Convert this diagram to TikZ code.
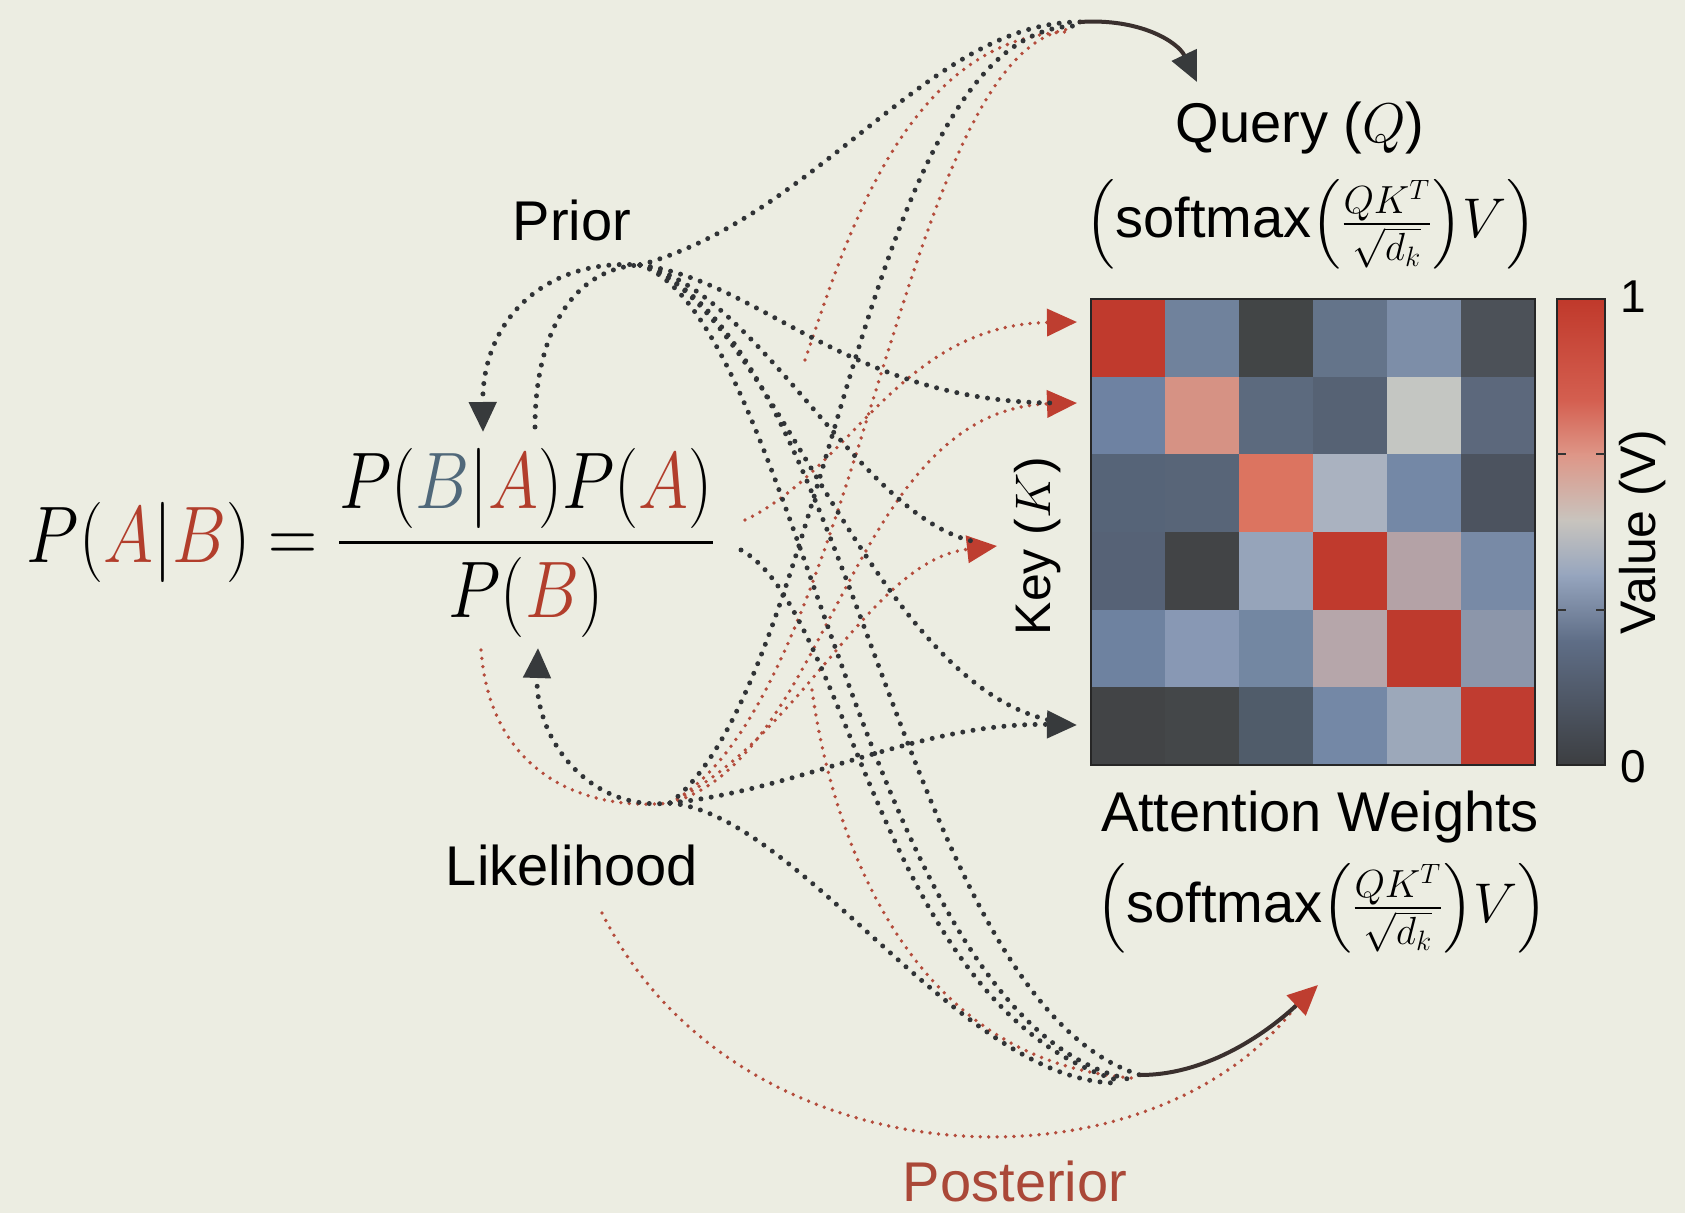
\RequirePackage{fix-cm}
\documentclass[tikz,border=0pt]{standalone}
\usepackage{amsmath}
\usepackage{fontspec}
\setmainfont{Liberation Sans}
\setsansfont{Liberation Sans}
\usetikzlibrary{arrows.meta,calc}
\definecolor{bg}{RGB}{236,237,226}
\definecolor{dotblack}{RGB}{48,51,54}
\definecolor{dotred}{RGB}{180,76,60}
\definecolor{eqred}{RGB}{178,62,44}
\definecolor{eqblue}{RGB}{80,104,122}
\definecolor{postred}{RGB}{170,72,56}
\definecolor{tipred}{RGB}{190,62,48}
\definecolor{tipblack}{RGB}{55,58,60}
\definecolor{solidend}{RGB}{58,48,46}
\begin{document}
\begin{tikzpicture}[x=0.5pt,y=-0.5pt,
  bdot/.style={draw=dotblack, line width=2.5pt, line cap=round, dash pattern=on 0pt off 5.2pt},
  rdot/.style={draw=dotred, line width=1.9pt, line cap=round, dash pattern=on 0pt off 4.2pt},
  btip/.style={-{Triangle[length=15pt,width=13.5pt,color=tipblack]}},
  rtip/.style={-{Triangle[length=15pt,width=13.5pt,color=tipred]}},
  solidseg/.style={draw=solidend, line width=2pt, line cap=round},
  lab/.style={inner sep=0pt, font=\fontsize{28}{32}\selectfont},
  labsm/.style={inner sep=0pt, font=\fontsize{25}{29}\selectfont},
  ticklab/.style={inner sep=0pt, font=\fontsize{23}{27}\selectfont}]
\fill[bg] (0,0) rectangle (1685,1213);
\useasboundingbox (0,0) rectangle (1685,1213);

% ---------- heatmap ----------
\foreach \i/\j/\rr/\gg/\bb in {
 1/1/192/58/45, 1/2/112/130/156, 1/3/66/69/70, 1/4/100/116/138, 1/5/125/142/168, 1/6/76/81/88,
 2/1/110/130/162, 2/2/214/146/132, 2/3/92/106/126, 2/4/86/98/116, 2/5/196/198/194, 2/6/92/104/124,
 3/1/86/100/120, 3/2/88/101/120, 3/3/220/116/96, 3/4/170/178/192, 3/5/116/136/166, 3/6/76/83/95,
 4/1/86/98/118, 4/2/66/68/70, 4/3/150/164/186, 4/4/192/58/45, 4/5/180/162/166, 4/6/120/138/166,
 5/1/110/130/160, 5/2/136/152/180, 5/3/115/135/162, 5/4/182/166/170, 5/5/190/58/45, 5/6/140/150/170,
 6/1/66/68/70, 6/2/68/71/73, 6/3/80/92/106, 6/4/116/136/166, 6/5/156/168/186, 6/6/192/60/48}
{
  \definecolor{cellc}{RGB}{\rr,\gg,\bb}
  \fill[cellc] ({1091+(\j-1)*74},{299+(\i-1)*77.667}) rectangle ++(74.6,78.3);
}
\draw[line width=1.2pt, black!85] (1091,299) rectangle (1535,765);

% ---------- colour bar ----------
\shade[top color={rgb,255:red,192;green,57;blue,43}, bottom color={rgb,255:red,212;green,95;blue,80}] (1557,299) rectangle (1605,401);
\shade[top color={rgb,255:red,212;green,95;blue,80}, bottom color={rgb,255:red,222;green,150;blue,135}] (1557,400) rectangle (1605,455);
\shade[top color={rgb,255:red,222;green,150;blue,135}, bottom color={rgb,255:red,200;green,196;blue,190}] (1557,454) rectangle (1605,521);
\shade[top color={rgb,255:red,200;green,196;blue,190}, bottom color={rgb,255:red,150;green,165;blue,190}] (1557,520) rectangle (1605,576);
\shade[top color={rgb,255:red,150;green,165;blue,190}, bottom color={rgb,255:red,95;green,110;blue,135}] (1557,575) rectangle (1605,641);
\shade[top color={rgb,255:red,95;green,110;blue,135}, bottom color={rgb,255:red,60;green,62;blue,65}] (1557,640) rectangle (1605,765);
\draw[line width=1.2pt, black!85] (1557,299) rectangle (1605,765);
\foreach \ty in {454.3,609.7}{
  \draw[line width=1.1pt, black!80] (1557,\ty) -- ++(9,0);
  \draw[line width=1.1pt, black!80] (1605,\ty) -- ++(-9,0);
}
\node[ticklab] (one) at (1633,297) {1};
\node[ticklab] (zero) at (1633,767) {0};
\node[labsm, rotate=90] (val) at (1643,532) {Value (V)};
\node[labsm, rotate=90] (key) at (1038,546) {Key ($K$)};

% ---------- texts ----------
\node[lab] (query) at (1300,128) {Query ($Q$)};
\node[lab] (qform) at (1311,224) {$\left(\text{softmax}\bigl(\frac{QK^{T}}{\sqrt{d_k}}\bigr)V\right)$};
\node[lab] (attn) at (1320,817) {Attention Weights};
\node[lab] (aform) at (1322,908) {$\left(\text{softmax}\bigl(\frac{QK^{T}}{\sqrt{d_k}}\bigr)V\right)$};
\node[lab] (prior) at (572,220) {Prior};
\node[lab] (lik) at (572,865) {Likelihood};
\node[lab, text=postred] (post) at (1015,1181) {Posterior};

\node[inner sep=0pt, yscale=1.18, font=\fontsize{34}{40}\selectfont] (eq) at (371,543)
 {$\displaystyle P(\textcolor{eqred}{A}|\textcolor{eqred}{B})=\frac{P(\textcolor{eqblue}{B}|\textcolor{eqred}{A})P(\textcolor{eqred}{A})}{P(\textcolor{eqred}{B})}$};

% ---------- coordinates ----------
\coordinate (hubP) at (640,265);
\coordinate (hubL) at (670,803);
\coordinate (qm) at (1080,22);
\coordinate (qtip) at (1197,82);
\coordinate (am) at (1140,1075);
\coordinate (atip) at (1318,985);
\coordinate (k1) at (1077,322);
\coordinate (k2) at (1077,403);
\coordinate (k3) at (997,546);
\coordinate (k4) at (1077,725);
\coordinate (na) at (483,432);
\coordinate (ns) at (535,427);
\coordinate (da) at (538,648);
\coordinate (rp) at (481,650);
\coordinate (nr) at (745,520);
\coordinate (db) at (741,550);
\coordinate (pb) at (602,913);
\coordinate (rf1) at (805,360);
\coordinate (rf2) at (812,690);
\coordinate (pe) at (1302,998);

% ---------- red dotted curves ----------
\draw[rdot] (rp) .. controls (490,770) and (580,812) .. (hubL);
\draw[rdot] (hubL) .. controls (860,700) and (900,50) .. ($(qm)+(-10,7)$);
\draw[rdot] (rf1) .. controls (840,260) and (900,40) .. ($(qm)+(-15,10)$);
\draw[rdot, rtip] (nr) .. controls (850,470) and (900,325) .. (k1);
\draw[rdot, rtip] (hubL) .. controls (830,760) and (850,410) .. (k2);
\draw[rdot, rtip] (hubL) .. controls (800,740) and (870,560) .. (k3);
\draw[rdot] (rf2) .. controls (830,820) and (900,1060) .. ($(am)+(-8,3)$);
\draw[rdot] (pb) .. controls (740,1190) and (1160,1200) .. (pe);

% ---------- black dotted curves ----------
\draw[bdot, btip] (hubP) .. controls (545,258) and (482,320) .. (na);
\draw[bdot] (ns) .. controls (535,330) and (575,268) .. (hubP);
\draw[bdot] (hubP) .. controls (820,215) and (930,22) .. (qm);
\draw[bdot, shorten >=10pt] (hubP) .. controls (760,280) and (850,403) .. (k2);
\draw[bdot, shorten >=10pt] (hubP) .. controls (760,290) and (860,520) .. (k3);
\draw[bdot, shorten >=10pt] (hubP) .. controls (770,300) and (870,690) .. (k4);
\draw[bdot] (hubP) .. controls (850,330) and (900,1000) .. (am);
\draw[bdot] (hubP) .. controls (800,320) and (860,1020) .. ($(am)+(-12,4)$);
\draw[bdot] (db) .. controls (850,610) and (880,1010) .. ($(am)+(-20,6)$);
\draw[bdot] (hubL) .. controls (830,680) and (860,30) .. ($(qm)+(-5,4)$);
\draw[bdot, btip] (hubL) .. controls (800,790) and (920,722) .. (k4);
\draw[bdot] (hubL) .. controls (800,815) and (960,1080) .. ($(am)+(-25,8)$);
\draw[bdot, btip] (hubL) .. controls (590,812) and (535,740) .. (da);

% ---------- merged solid ends ----------
\draw[solidseg, btip] (qm) .. controls (1140,18) and (1178,42) .. (qtip);
\draw[solidseg, rtip] (am) .. controls (1210,1075) and (1270,1030) .. (atip);
\end{tikzpicture}
\end{document}
